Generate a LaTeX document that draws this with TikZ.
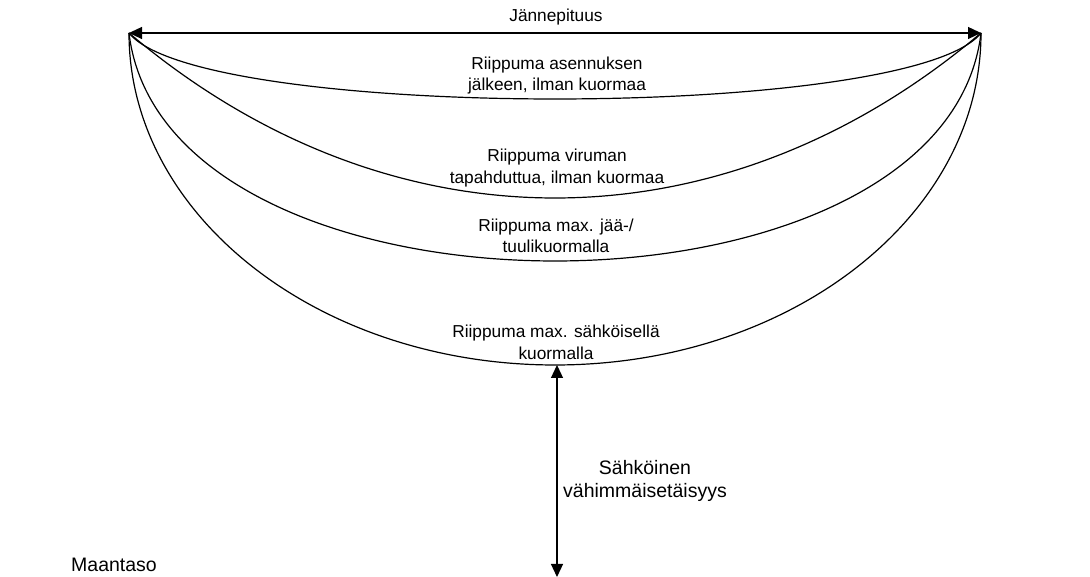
\documentclass[tikz,border=0pt]{standalone}
\usepackage{fontspec}
\setmainfont{Liberation Sans}
\usetikzlibrary{arrows.meta}
\tikzset{
  wire/.style={line width=1.2pt, draw=black},
  dim/.style={line width=1.2pt, draw=black, {Triangle[length=13pt,width=12pt]}-{Triangle[length=13pt,width=12pt]}},
  lbl/.style={align=center, inner sep=0pt, font=\fontsize{17.3}{21.5}\selectfont},
  biglbl/.style={align=center, inner sep=0pt, font=\fontsize{19.5}{23}\selectfont}
}
\begin{document}
\begin{tikzpicture}[x=1pt,y=1pt]
\useasboundingbox (0,0) rectangle (1090,577);
\coordinate (L) at (129,544);
\coordinate (R) at (981,544);
\coordinate (gtop) at (557,212);
\coordinate (gbot) at (557,0);
% span
\draw[dim] (L) -- (R);
\node[lbl] (span) at (556,560) {Jännepituus};
% sag curves
\draw[wire] (L) .. controls (199,456) and (911,456) .. (R);
\draw[wire] (L) .. controls (389,324) and (721,324) .. (R);
\draw[wire] (L) .. controls (165,240) and (945,240) .. (R);
\draw[wire] (L) arc[start angle=180, end angle=360, x radius=426, y radius=332];
% labels
\node[lbl] (c1) at (557,501.5) {Riippuma asennuksen\\jälkeen, ilman kuormaa};
\node[lbl] (c2) at (557,409) {Riippuma viruman\\tapahduttua, ilman kuormaa};
\node[lbl] (c3) at (556,341) {Riippuma max. jää-/\\tuulikuormalla};
\node[lbl] (c4) at (556,234.5) {Riippuma max. sähköisellä\\kuormalla};
% clearance
\draw[dim] (gtop) -- (gbot);
\node[biglbl] (clr) at (645,96) {Sähköinen\\vähimmäisetäisyys};
\node[biglbl] (ground) at (114,12) {Maantaso};
\end{tikzpicture}
\end{document}
